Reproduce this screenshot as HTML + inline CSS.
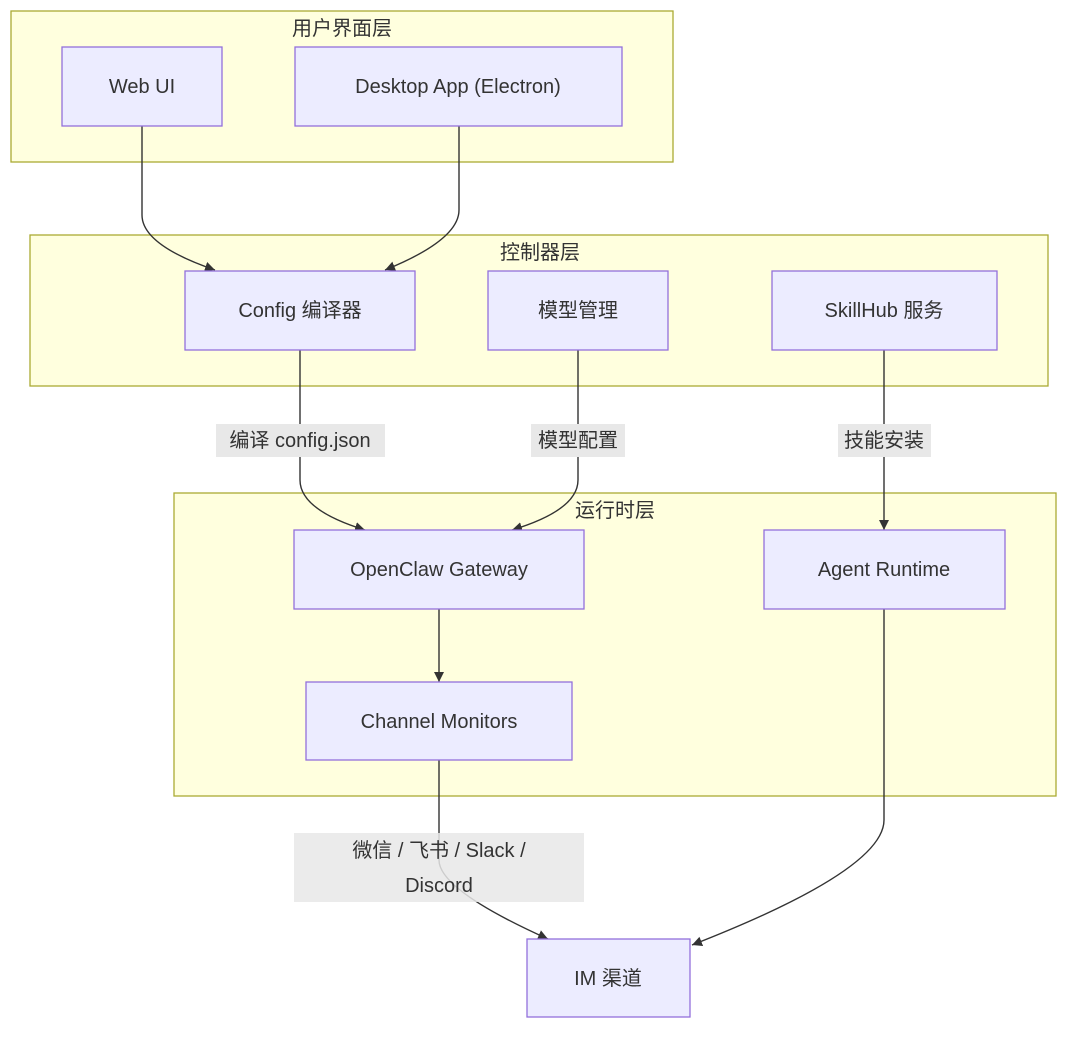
<!DOCTYPE html>
<html><head><meta charset="utf-8"><style>
html,body{margin:0;padding:0;background:#fff;}
svg{display:block;}
text{font-family:"Liberation Sans","Noto Sans CJK SC",sans-serif;font-size:20px;fill:#333;}
.c{fill:#ffffde;stroke:#aaaa33;stroke-width:1.3;}
.n{fill:#ececff;stroke:#9370db;stroke-width:1.3;}
.e{fill:none;stroke:#333;stroke-width:1.4;}
.lb{fill:#e8e8e8;}
</style></head><body>
<svg width="1080" height="1040" viewBox="0 0 1080 1040" xmlns="http://www.w3.org/2000/svg">
<defs><marker id="a" markerWidth="12" markerHeight="12" refX="10" refY="5" orient="auto" markerUnits="userSpaceOnUse"><path d="M0,0 L10,5 L0,10 z" fill="#333"/></marker></defs>
<rect class="c" x="11" y="11" width="662" height="151"/>
<rect class="c" x="30" y="235" width="1018" height="151"/>
<rect class="c" x="174" y="493" width="882" height="303"/>
<text x="342" y="35" text-anchor="middle">用户界面层</text>
<text x="540" y="259" text-anchor="middle">控制器层</text>
<text x="615" y="517" text-anchor="middle">运行时层</text>

<path class="e" d="M142,126 V215 Q142,245 215,270" marker-end="url(#a)"/>
<path class="e" d="M459,126 V210 Q459,240 385,270" marker-end="url(#a)"/>
<path class="e" d="M300,350 V480 Q300,510 365,530" marker-end="url(#a)"/>
<path class="e" d="M578,350 V480 Q578,510 512,530" marker-end="url(#a)"/>
<path class="e" d="M884,350 V530" marker-end="url(#a)"/>
<path class="e" d="M439,609 V682" marker-end="url(#a)"/>
<path class="e" d="M439,760 V860 Q439,890 548,939" marker-end="url(#a)"/>
<path class="e" d="M884,609 V820 Q884,870 692,945" marker-end="url(#a)"/>

<rect class="n" x="62" y="47" width="160" height="79"/><text x="142" y="93" text-anchor="middle">Web UI</text>
<rect class="n" x="295" y="47" width="327" height="79"/><text x="458" y="93" text-anchor="middle">Desktop App (Electron)</text>
<rect class="n" x="185" y="271" width="230" height="79"/><text x="300" y="317" text-anchor="middle">Config 编译器</text>
<rect class="n" x="488" y="271" width="180" height="79"/><text x="578" y="317" text-anchor="middle">模型管理</text>
<rect class="n" x="772" y="271" width="225" height="79"/><text x="884" y="317" text-anchor="middle">SkillHub 服务</text>
<rect class="n" x="294" y="530" width="290" height="79"/><text x="439" y="576" text-anchor="middle">OpenClaw Gateway</text>
<rect class="n" x="764" y="530" width="241" height="79"/><text x="884" y="576" text-anchor="middle">Agent Runtime</text>
<rect class="n" x="306" y="682" width="266" height="78"/><text x="439" y="728" text-anchor="middle">Channel Monitors</text>
<rect class="n" x="527" y="939" width="163" height="78"/><text x="608" y="985" text-anchor="middle">IM 渠道</text>

<rect class="lb" x="216" y="424" width="169" height="33"/><text x="300" y="447" text-anchor="middle">编译 config.json</text>
<rect class="lb" x="531" y="424" width="94" height="33"/><text x="578" y="447" text-anchor="middle">模型配置</text>
<rect class="lb" x="838" y="424" width="93" height="33"/><text x="884" y="447" text-anchor="middle">技能安装</text>
<rect class="lb" x="294" y="833" width="290" height="69" opacity="0.85"/>
<text x="439" y="857" text-anchor="middle">微信 / 飞书 / Slack /</text>
<text x="439" y="892" text-anchor="middle">Discord</text>
</svg>
</body></html>
